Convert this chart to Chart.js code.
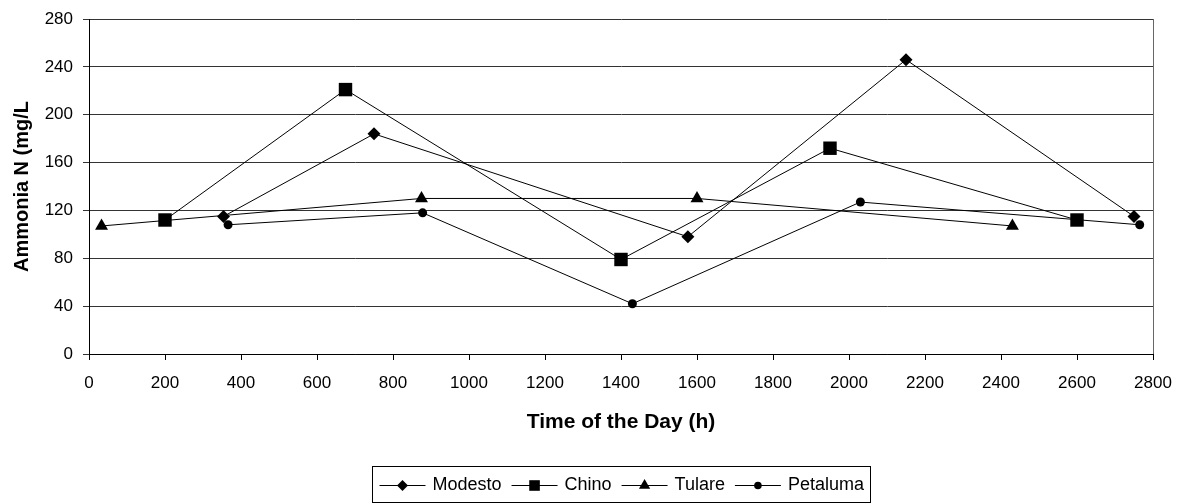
<!DOCTYPE html>
<html>
<head>
<meta charset="utf-8">
<script src="https://cdn.jsdelivr.net/npm/chart.js@4/dist/chart.umd.min.js"></script>
<style>
  html, body { margin: 0; padding: 0; background: #fff; }
  #wrap { width: 1179px; height: 504px; position: relative; }
</style>
</head>
<body>
<div id="wrap"><canvas id="c" width="1179" height="504"></canvas></div>
<script>
// ---- data ----
const seriesNames = ['Modesto', 'Chino', 'Tulare', 'Petaluma'];
const modestoX = [354, 750, 1576, 2150, 2750];
const modestoY = [115, 184, 98, 246, 115];
const chinoX = [200, 675, 1400, 1950, 2600];
const chinoY = [112, 221, 79, 172, 112];
const tulareX = [33, 875, 1600, 2430];
const tulareY = [107, 130, 130, 107];
const petalumaX = [366, 878, 1430, 2030, 2765];
const petalumaY = [108, 118, 42, 127, 108];
const xTickValues = [0, 200, 400, 600, 800, 1000, 1200, 1400, 1600, 1800, 2000, 2200, 2400, 2600, 2800];
const yTickValues = [0, 40, 80, 120, 160, 200, 240, 280];

const FONT = "'Liberation Sans', Arial, sans-serif";

function pts(xs, ys) { return xs.map((x, i) => ({ x: x, y: ys[i] })); }

const styles = [
  { pointStyle: 'rectRot', radius: 6.5, legendRadius: 5.5 },
  { pointStyle: 'rect', radius: 9.5, legendRadius: 7.5 },
  { pointStyle: 'triangle', radius: 7.5, legendRadius: 6.5 },
  { pointStyle: 'circle', radius: 4.5, legendRadius: 3.8 }
];
const dataSets = [pts(modestoX, modestoY), pts(chinoX, chinoY), pts(tulareX, tulareY), pts(petalumaX, petalumaY)];

const datasets = seriesNames.map((name, i) => ({
  label: name,
  data: dataSets[i],
  borderColor: '#000',
  backgroundColor: '#000',
  borderWidth: 1,
  pointStyle: styles[i].pointStyle,
  pointRadius: styles[i].radius,
  pointBorderWidth: 0,
  pointBackgroundColor: '#000',
  pointBorderColor: '#000',
  fill: false,
  tension: 0
}));

function drawMarker(ctx, style, r, x, y) {
  if (Chart.helpers && Chart.helpers.drawPoint) {
    ctx.fillStyle = '#000';
    ctx.strokeStyle = '#000';
    ctx.lineWidth = 0;
    Chart.helpers.drawPoint(ctx, { pointStyle: style, radius: r, rotation: 0, borderWidth: 0 }, x, y);
    return;
  }
  ctx.beginPath();
  if (style === 'circle') ctx.arc(x, y, r, 0, Math.PI * 2);
  else if (style === 'rect') { const s = r * Math.SQRT1_2; ctx.rect(x - s, y - s, 2 * s, 2 * s); }
  else if (style === 'rectRot') { ctx.moveTo(x - r, y); ctx.lineTo(x, y - r); ctx.lineTo(x + r, y); ctx.lineTo(x, y + r); ctx.closePath(); }
  else if (style === 'triangle') { ctx.moveTo(x, y - r); ctx.lineTo(x + r * 0.866, y + r * 0.5); ctx.lineTo(x - r * 0.866, y + r * 0.5); ctx.closePath(); }
  ctx.fillStyle = '#000';
  ctx.fill();
}

const framePlugin = {
  id: 'frame',
  afterDatasetsDraw(chart) {
    const ctx = chart.ctx, a = chart.chartArea;
    ctx.save();
    ctx.strokeStyle = '#666';
    ctx.lineWidth = 1;
    ctx.beginPath();
    ctx.moveTo(Math.round(a.right) + 0.5, a.top);
    ctx.lineTo(Math.round(a.right) + 0.5, a.bottom);
    ctx.stroke();
    ctx.restore();
  },
  afterDraw(chart) {
    const ctx = chart.ctx, a = chart.chartArea;
    ctx.save();
    ctx.font = '18px ' + FONT;
    const sampleLen = 46, gapText = 7, gapItem = 10, padX = 7;
    const widths = seriesNames.map(n => ctx.measureText(n).width);
    let total = padX * 2;
    widths.forEach((w, i) => { total += sampleLen + gapText + w + (i < widths.length - 1 ? gapItem : 0); });
    const cx = (a.left + a.right) / 2;
    const left = Math.round(cx - total / 2) + 0.5;
    const top = 466.5, h = 36;
    ctx.strokeStyle = '#000';
    ctx.lineWidth = 1;
    ctx.strokeRect(left, top, Math.round(total), h);
    const cy = top + h / 2;
    let x = left + padX;
    seriesNames.forEach((n, i) => {
      ctx.strokeStyle = '#000';
      ctx.lineWidth = 1;
      ctx.beginPath();
      ctx.moveTo(x, Math.round(cy) + 0.5);
      ctx.lineTo(x + sampleLen, Math.round(cy) + 0.5);
      ctx.stroke();
      drawMarker(ctx, styles[i].pointStyle, styles[i].legendRadius, x + sampleLen / 2, Math.round(cy) + 0.5);
      x += sampleLen + gapText;
      ctx.fillStyle = '#000';
      ctx.textBaseline = 'middle';
      ctx.textAlign = 'left';
      ctx.fillText(n, x, cy + 1);
      x += widths[i] + gapItem;
    });
    ctx.restore();
  }
};

new Chart(document.getElementById('c'), {
  type: 'line',
  data: { datasets: datasets },
  options: {
    responsive: false,
    animation: false,
    devicePixelRatio: 1,
    layout: { padding: { top: 19, right: 26, bottom: 0, left: 0 } },
    plugins: {
      legend: { display: false },
      tooltip: { enabled: false }
    },
    elements: { line: { borderWidth: 1 } },
    scales: {
      x: {
        type: 'linear',
        min: 0,
        max: 2800,
        afterBuildTicks(scale) { scale.ticks = xTickValues.map(v => ({ value: v })); },
        afterFit(scale) { scale.height = 150; scale.paddingRight = 0; scale.paddingLeft = 0; },
        grid: { drawOnChartArea: false, drawTicks: true, tickLength: 6, color: '#000' },
        border: { color: '#000', width: 1 },
        ticks: {
          color: '#000', font: { family: FONT, size: 17 }, padding: 13, maxRotation: 0, autoSkip: false,
          callback: (v) => String(v)
        },
        title: {
          display: true,
          text: 'Time of the Day (h)',
          color: '#000',
          font: { family: FONT, size: 21, weight: 'bold' },
          padding: { top: 0, bottom: 69 }
        }
      },
      y: {
        type: 'linear',
        min: 0,
        max: 280,
        afterBuildTicks(scale) { scale.ticks = yTickValues.map(v => ({ value: v })); },
        afterFit(scale) { scale.width = 89; scale.paddingTop = 0; scale.paddingBottom = 0; },
        grid: { drawOnChartArea: true, drawTicks: true, tickLength: 6, color: '#333' },
        border: { color: '#000', width: 1 },
        ticks: { color: '#000', font: { family: FONT, size: 17 }, padding: 10, callback: (v) => String(v) },
        title: {
          display: true,
          text: 'Ammonia N (mg/L',
          color: '#000',
          font: { family: FONT, size: 20, weight: 'bold' },
          padding: { top: 10, bottom: 0 }
        }
      }
    }
  },
  plugins: [framePlugin]
});
</script>
</body>
</html>
